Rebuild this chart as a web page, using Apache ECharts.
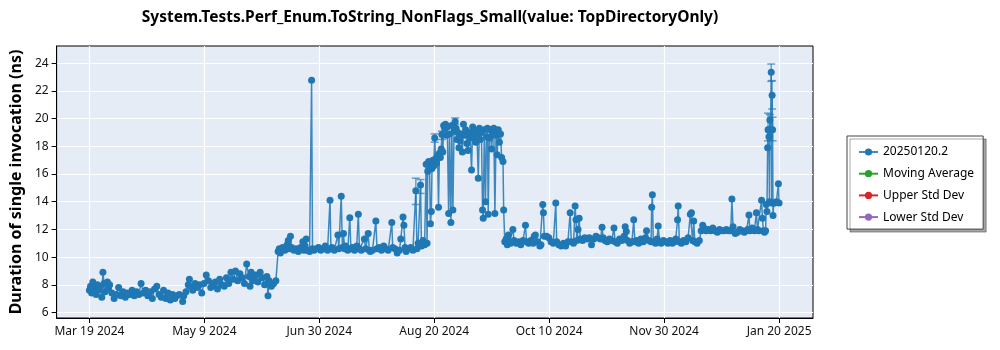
<!DOCTYPE html>
<html><head><meta charset="utf-8">
<script src="https://cdn.jsdelivr.net/npm/echarts@6/dist/echarts.min.js"></script>
<style>html,body{margin:0;padding:0;background:#fff}#c{width:1000px;height:350px}</style>
</head><body><div id="c"></div>
<script>
const chartTitle = 'System.Tests.Perf_Enum.ToString_NonFlags_Small(value: TopDirectoryOnly)';
const yAxisTitle = 'Duration of single invocation (ns)';
const originDate = '2024-03-19';
const xTickDates = ['2024-03-19','2024-05-09','2024-06-30','2024-08-20','2024-10-10','2024-11-30','2025-01-20'];
const xTickLabels = ['Mar 19 2024','May 9 2024','Jun 30 2024','Aug 20 2024','Oct 10 2024','Nov 30 2024','Jan 20 2025'];
const yTickValues = [6,8,10,12,14,16,18,20,22,24];
const seriesNames = ['20250120.2','Moving Average','Upper Std Dev','Lower Std Dev'];
const seriesColors = ['#1f77b4','#2ca02c','#d62728','#9467bd'];

// days since originDate, and measured durations (ns)
const dayOffsets = [
0,0.5,1,1.5,2,3,3.5,4,5,5.5,6,6.5,7,8,8.5,9,10,11,12,13,14,15,16,17,18,19,20,21,22,23,24,25,26,27,28,29,30,31,32,33,34,35,36,37,38,39,40,41.5,42,43,44,44.5,45,46,47,48,49,50,51,52,53,54,55,56,57,58,59,60,61,62,63,64,65,66,67,68,69,70,71,71.5,72,73,74,75,76,77,78,79,79.5,80,81,82,83,
84,84.5,85,86,87,88,88.5,89,89.5,90,91,92,93,94,95,95.5,96,96.5,97,98,98.9,99.3,100,101,102,103,104,105,106,107.1,107.5,108,109,110.6,111,112.1,112.6,113.1,113.6,114,115,115.9,116.4,117,118,119,119.7,120.2,121,122.4,123,124.1,124.6,125,126,127.5,128,129,130,131,132,133,134.6,135,136,137,138,138.6,139.6,140,140.5,141,142,143,144,145.3,145.8,146.3,147.4,147.8,148.5,149.2,149.9,150.3,
150.6,151,151.4,151.8,152.2,152.5,152.9,153.3,153.7,154.1,154.5,155,155.4,155.8,156.2,156.6,156.9,157.3,157.7,158.1,158.5,158.9,159.3,159.9,160.3,160.9,161.3,161.8,162.3,162.8,163.2,163.6,164,164.5,165,165.5,166,166.5,167,167.5,168,168.5,169,169.5,170.1,170.6,171,171.5,172,172.5,173.1,173.6,174,174.5,175,175.3,175.8,176.3,176.8,177.2,177.5,178,178.5,179,179.5,180,180.5,181,181.5,182,182.5,183,183.5,184.1,184.4,184.9,
185.5,186,186.5,187,187.5,188.5,189,190,191,192,193,194.1,194.6,195.5,196.5,197.5,198,198.5,199.5,200.5,201,201.8,202.1,202.5,203.5,204.5,205.5,206.5,207.6,208,209,210,211,212,213,214,214.5,215.5,216.2,216.6,217,217.5,218,218.5,219.5,220.5,221.5,222.5,223.5,224.5,225.5,226.5,227.5,228.2,228.7,229.5,230.5,231.5,232.5,233.5,234,235,236,237,238,238.5,239,239.5,240.5,241.5,242.3,242.8,243.5,244.5,245.5,246.5,247.5,248,249,250,250.3,250.6,251,252,252.7,253.2,253.8,254.5,255.5,256.5,257.5,258.5,259.5,260.5,261,261.8,262.1,262.6,263.5,264.5,265.5,266.5,267.5,268,268.5,269,269.5,270.5,271.5,272.3,273,273.5,274.5,275.5,276.5,277.5,278.5,279.5,280.5,281.5,282.5,283.5,284.5,285.5,286,286.5,287.5,288.5,289.5,290.5,291.5,292.5,293,293.6,294,295,296,296.9,297.4,298,299.2,299.6,300,300.5,301,
301.3,301.6,301.9,302.1,302.3,302.5,302.7,302.9,303.2,303.5,303.7,303.9,304.1,304.3,304.6,305,305.8,306.7,307
];
const durationsNs = [
7.6,7.9,7.4,8.2,7.8,7.3,8.0,7.6,7.9,7.1,8.9,8.1,7.5,8.2,7.7,8.0,7.4,7.0,7.3,7.8,7.2,7.5,7.1,7.4,7.3,7.6,7.2,7.5,7.3,8.1,7.4,7.6,7.2,7.5,7.0,7.7,7.9,7.3,7.1,7.6,7.0,7.4,6.9,7.3,7.0,7.2,7.3,6.8,7.2,7.5,8.0,8.4,7.9,7.6,8.1,7.8,8.0,7.4,8.1,8.7,8.3,7.8,8.0,8.2,7.7,8.4,8.0,7.9,8.5,8.1,8.9,8.4,9.0,8.3,8.8,8.5,8.1,9.5,8.6,7.9,8.9,8.3,8.7,8.2,8.9,8.5,8.0,8.6,7.2,8.3,7.9,8.1,8.3,
10.4,10.6,10.3,10.7,10.5,10.9,11.2,10.6,11.5,10.7,10.5,10.6,10.4,10.7,11.1,10.5,10.8,11.3,10.5,10.4,22.77,10.6,10.5,10.6,10.7,10.5,10.6,10.8,10.5,14.1,10.6,10.7,10.5,11.6,10.6,14.4,10.7,11.7,10.6,10.8,10.5,12.85,10.6,10.7,10.5,10.8,13.1,10.6,10.5,11.3,10.6,11.7,10.5,10.4,10.5,12.6,10.6,10.7,10.5,10.8,10.6,10.5,12.5,10.7,10.6,10.3,10.5,11.3,12.9,12.3,10.7,10.4,10.6,10.7,10.5,14.8,10.6,11.0,15.2,10.8,11.2,10.9,16.7,11.0,
16.2,16.9,16.5,12.4,13.3,16.4,17.0,16.6,18.6,17.1,16.8,17.3,13.6,17.5,17.2,17.8,18.85,17.6,19.5,19.3,19.6,18.8,19.4,13.15,18.9,12.5,19.5,13.4,19.1,19.8,19.3,18.5,19.0,17.9,18.4,18.9,17.6,19.6,18.8,19.2,18.2,17.7,19.0,18.6,16.3,19.4,18.7,19.1,18.3,18.9,15.7,19.3,18.5,19.0,13.4,12.8,19.2,14.0,18.7,19.3,13.1,18.6,19.2,17.8,18.9,19.3,13.15,18.8,17.4,19.2,18.3,18.9,17.2,16.9,13.4,11.1,
11.3,10.9,11.6,11.1,11.0,12.0,11.2,11.0,11.1,10.9,11.2,12.3,11.1,11.0,11.2,11.0,11.5,11.6,11.1,10.8,10.9,13.8,13.2,11.5,11.5,11.4,11.1,11.0,13.9,11.1,10.9,10.8,11.0,10.8,11.1,13.2,11.1,11.0,13.7,12.7,11.2,12.0,12.8,11.3,11.2,11.4,11.3,11.4,10.9,11.3,11.5,11.4,11.3,12.15,11.4,11.2,11.1,11.3,11.2,12.1,11.1,11.0,11.3,11.2,11.5,12.2,11.85,11.2,11.0,11.1,12.7,11.1,11.2,11.0,11.3,11.1,11.4,11.9,11.2,11.1,13.6,14.5,11.1,11.0,11.3,12.25,11.1,11.0,11.2,11.1,11.0,11.2,11.0,11.1,11.3,12.7,13.7,11.1,11.0,11.2,11.1,11.4,13.1,13.2,11.2,12.6,11.1,11.0,11.2,11.9,12.3,12.1,11.9,12.0,11.9,12.1,11.9,11.8,12.0,11.9,11.9,12.0,11.9,11.9,14.2,12.2,11.7,11.8,12.0,11.9,11.8,11.9,12.0,13.05,11.9,12.1,11.9,13.2,12.0,11.9,14.1,12.8,11.9,11.8,11.9,
13.8,13.3,17.9,19.2,19.2,18.7,14.0,19.9,19.2,23.35,13.9,21.7,19.2,13.0,13.9,13.9,14.0,15.3,13.9
];
// error bars (day, low, high)
const errDays = [145.3,147.4,153.7,156.9,162.8,302.1,302.9,303.5,303.9,304.1];
const errLow  = [13.8,14.6,18.3,18.5,19.6,18.4,19.3,22.7,20.7,18.4];
const errHigh = [15.7,15.6,18.9,19.1,20.05,20.4,20.3,23.95,22.75,20.1];

const dayOf = s => (Date.parse(s) - Date.parse(originDate)) / 86400000;
const lastTick = dayOf(xTickDates[xTickDates.length - 1]);
const xTickPos = xTickDates.map((d, i) => i * lastTick / (xTickDates.length - 1));

const fontFam = '"Noto Sans", "Open Sans", sans-serif';
const chart = echarts.init(document.getElementById('c'), null, {renderer: 'canvas'});
const mainData = dayOffsets.map((d, i) => [d, durationsNs[i]]);
const errColor = 'rgba(31,119,180,0.65)';

const series = [
  {
    name: seriesNames[0], type: 'line', data: mainData, color: seriesColors[0],
    symbol: 'circle', symbolSize: 7, showSymbol: true,
    lineStyle: {width: 1.5, color: 'rgba(31,119,180,0.85)'},
    itemStyle: {color: seriesColors[0]}, z: 3, animation: false
  },
  {
    type: 'custom', name: 'errorbars', silent: true, z: 2, animation: false,
    data: errDays.map((d, i) => [d, errLow[i], errHigh[i]]),
    encode: {x: 0, y: [1, 2]},
    renderItem: (params, api) => {
      const lo = api.coord([api.value(0), api.value(1)]);
      const hi = api.coord([api.value(0), api.value(2)]);
      const w = 4;
      const st = {stroke: errColor, lineWidth: 1.5};
      return {type: 'group', children: [
        {type: 'line', shape: {x1: lo[0], y1: lo[1], x2: hi[0], y2: hi[1]}, style: st},
        {type: 'line', shape: {x1: lo[0]-w, y1: lo[1], x2: lo[0]+w, y2: lo[1]}, style: st},
        {type: 'line', shape: {x1: hi[0]-w, y1: hi[1], x2: hi[0]+w, y2: hi[1]}, style: st}
      ]};
    }
  }
];
for (let k = 1; k < seriesNames.length; k++) {
  series.push({name: seriesNames[k], type: 'line', data: [], color: seriesColors[k],
    symbol: 'circle', symbolSize: 6, itemStyle: {color: seriesColors[k]}, lineStyle: {color: seriesColors[k], width: 1.5}});
}

chart.setOption({
  animation: false,
  backgroundColor: '#ffffff',
  textStyle: {fontFamily: fontFam},
  title: {
    text: chartTitle, left: 430, top: 10, textAlign: 'center', padding: 0,
    textStyle: {fontFamily: fontFam, fontSize: 15.5, fontWeight: 'bold', color: '#000'}
  },
  grid: {
    left: 49, right: 187, top: 46, bottom: 32, show: true,
    backgroundColor: '#E5ECF6', borderColor: '#000', borderWidth: 1
  },
  legend: {
    data: seriesNames, orient: 'vertical', left: 847, top: 136,
    padding: [10, 9, 6, 11], itemWidth: 19, itemHeight: 9, itemGap: 9.7,
    backgroundColor: '#fff', borderColor: '#444', borderWidth: 1,
    shadowColor: 'rgba(0,0,0,0.35)', shadowBlur: 0, shadowOffsetX: 3, shadowOffsetY: 3,
    textStyle: {fontFamily: fontFam, fontSize: 12, color: '#000'}
  },
  xAxis: {
    type: 'value', min: -14.6, max: 322.1,
    axisLine: {show: true, onZero: false, lineStyle: {color: '#000', width: 1}},
    axisTick: {show: true, customValues: xTickPos, length: 5, lineStyle: {color: '#000'}},
    axisLabel: {
      customValues: xTickPos, margin: 8, fontSize: 12, color: '#111', fontFamily: fontFam,
      formatter: v => { const i = xTickPos.findIndex(p => Math.abs(p - v) < 0.01); return i >= 0 ? xTickLabels[i] : ''; }
    },
    splitLine: {show: true, lineStyle: {color: '#ffffff', width: 1.2}}
  },
  yAxis: {
    type: 'value', min: 5.6, max: 25.25,
    name: yAxisTitle, nameLocation: 'middle', nameGap: 28,
    nameTextStyle: {fontFamily: fontFam, fontSize: 16, fontWeight: 'bold', color: '#000'},
    axisLine: {show: true, onZero: false, lineStyle: {color: '#000', width: 1}},
    axisTick: {show: true, customValues: yTickValues, length: 5, lineStyle: {color: '#000'}},
    axisLabel: {customValues: yTickValues, margin: 8, fontSize: 12, color: '#111', fontFamily: fontFam},
    splitLine: {show: true, lineStyle: {color: '#ffffff', width: 1.2}}
  },
  series: series
});
</script></body></html>
